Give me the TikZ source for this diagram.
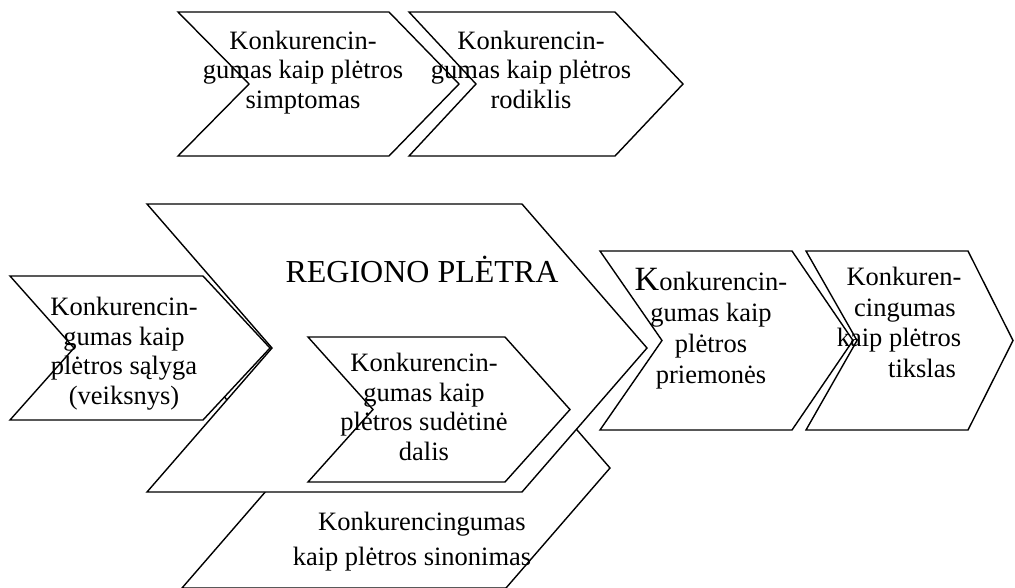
\documentclass[tikz,border=0pt]{standalone}
\usepackage{fontspec}
\setmainfont{Liberation Serif}
\newcommand{\chevpath}[6]{%
  % #1 left x, #2 right x (body), #3 top y, #4 bottom y, #5 notch depth, #6 tip depth
  (#1,#3) -- (#2,#3) -- ({#2+#6},{(#3+#4)/2}) -- (#2,#4) -- (#1,#4) -- ({#1+#5},{(#3+#4)/2}) -- cycle}
\begin{document}
\begin{tikzpicture}[x=1pt,y=-1pt,
  chev/.style={draw=black, fill=white, line width=1.4pt, line join=miter},
  txt/.style={font=\fontsize{26.5}{29.5}\selectfont, align=center, anchor=base, inner sep=0pt}]
\useasboundingbox (0,0) rectangle (1015,587);
\clip (0,0) rectangle (1015,587);
% lower group
\draw[chev] \chevpath{182}{506}{348}{588}{104}{104};
\draw[chev] \chevpath{147}{522}{204}{492}{125}{125};
\draw[chev] \chevpath{10}{203}{276}{420}{64}{67};
\draw[chev] \chevpath{308}{505}{337}{482}{65}{65};
% upper group
\draw[chev] \chevpath{178}{389}{12}{156}{71}{70};
\draw[chev] \chevpath{409}{615}{12}{156}{67}{68};
% right group
\draw[chev] \chevpath{600}{792}{251}{430}{62}{61};
\draw[chev] \chevpath{806}{968}{251}{430}{51}{45};
% texts (anchored at the baseline of the last line)
\node[txt] (simptomas) at (303,108) {Konkurencin-\\gumas kaip plėtros\\simptomas};
\node[txt] (rodiklis) at (531,108) {Konkurencin-\\gumas kaip plėtros\\rodiklis};
\node[txt, font=\fontsize{32}{36}\selectfont] (regionas) at (422,282) {REGIONO PLĖTRA};
\node[txt] (salyga) at (124,404) {Konkurencin-\\gumas kaip\\plėtros sąlyga\\(veiksnys)};
\node[txt] (sudetine) at (424,460) {Konkurencin-\\gumas kaip\\plėtros sudėtinė\\dalis};
\node[txt, font=\fontsize{26.5}{35}\selectfont] (sinonimas) at (412,565) {\hspace*{20pt}Konkurencingumas\\kaip plėtros sinonimas};
\node[txt, font=\fontsize{26.5}{31}\selectfont] (priemones) at (711,383) {{\fontsize{34}{31}\selectfont K}onkurencin-\\gumas kaip\\plėtros\\priemonės};
\node[txt, font=\fontsize{26.5}{30.5}\selectfont] (tikslas) at (899,377) {\hspace*{10pt}Konkuren-\\\hspace*{12pt}cingumas\\kaip plėtros\\\hspace*{46pt}tikslas};
\end{tikzpicture}
\end{document}
